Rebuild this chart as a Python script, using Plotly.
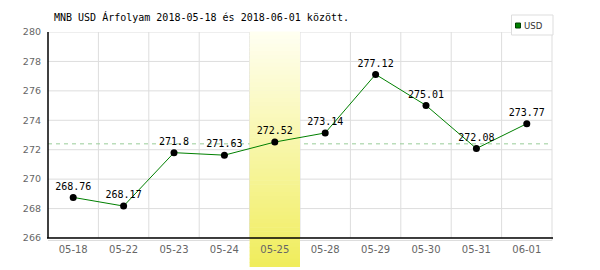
import plotly.graph_objects as go

dates = ["05-18", "05-22", "05-23", "05-24", "05-25", "05-28", "05-29", "05-30", "05-31", "06-01"]
usd = [268.76, 268.17, 271.8, 271.63, 272.52, 273.14, 277.12, 275.01, 272.08, 273.77]
labels = ["268.76", "268.17", "271.8", "271.63", "272.52", "273.14", "277.12", "275.01", "272.08", "273.77"]
y_ticks = [266, 268, 270, 272, 274, 276, 278, 280]
highlight_date = "05-25"
series_name = "USD"
title_text = "MNB USD Árfolyam 2018-05-18 és 2018-06-01 között."

avg = sum(usd) / len(usd)
idx = list(range(len(dates)))
hi = dates.index(highlight_date)

W, H = 600, 270
ML, MR, MT, MB = 48, 48, 32, 32
PW, PH = W - ML - MR, H - MT - MB


def px_x(x):
    return (x - ML) / PW


def px_y(y):
    return (H - MB - y) / PH


fig = go.Figure()
fig.add_trace(go.Scatter(
    x=idx, y=usd, mode="lines+markers+text", text=labels, textposition="top center",
    textfont=dict(family="DejaVu Sans Mono", size=10, color="#000"),
    line=dict(color="#008000", width=1),
    marker=dict(color="#000", size=7), showlegend=False, cliponaxis=False,
))

shapes = []
# vertical gridlines at category boundaries
for k in range(1, len(dates)):
    shapes.append(dict(type="line", xref="x", yref="paper", x0=k - 0.5, x1=k - 0.5, y0=0, y1=1,
                       line=dict(color="#dddddd", width=1), layer="below"))
# horizontal gridlines
for v in y_ticks:
    shapes.append(dict(type="line", xref="paper", yref="y", x0=0, x1=1, y0=v, y1=v,
                       line=dict(color="#dddddd", width=1), layer="below"))
# gray band line under x axis
shapes.append(dict(type="line", xref="paper", yref="paper", x0=0, x1=1, y0=px_y(240.5), y1=px_y(240.5),
                   line=dict(color="#dddddd", width=1), layer="below"))
# average dashed line
shapes.append(dict(type="line", xref="paper", yref="y", x0=0, x1=1, y0=avg, y1=avg,
                   line=dict(color="#99cc99", width=1, dash="4px,4px"), layer="below"))
# right border
shapes.append(dict(type="line", xref="paper", yref="paper", x0=1, x1=1, y0=px_y(240.5), y1=1,
                   line=dict(color="#dddddd", width=1), layer="below"))

# gradient highlight
n = 60
top, bot = 1.0, px_y(267)
c0 = (255, 255, 242)
c1 = (240, 237, 92)
for i in range(n):
    t = (i + 0.5) / n
    r, g, b = (round(c0[j] + (c1[j] - c0[j]) * t) for j in range(3))
    y1 = top - (top - bot) * i / n
    y0 = top - (top - bot) * (i + 1) / n
    shapes.append(dict(type="rect", xref="x", yref="paper", x0=hi - 0.5, x1=hi + 0.5,
                       y0=y0, y1=y1 + 0.003, line=dict(width=0),
                       fillcolor=f"rgb({r},{g},{b})", layer="below"))

# axis lines above highlight
shapes.append(dict(type="line", xref="paper", yref="paper", x0=-0.002, x1=1.002, y0=0, y1=0,
                   line=dict(color="#000", width=1.5), layer="between"))
shapes.append(dict(type="line", xref="paper", yref="paper", x0=0, x1=0, y0=0, y1=1,
                   line=dict(color="#000", width=1.5), layer="between"))
# legend box
shapes.append(dict(type="rect", xref="paper", yref="paper", x0=px_x(511.5), x1=px_x(553),
                   y0=px_y(35), y1=px_y(15), fillcolor="white", line=dict(color="#dddddd", width=1),
                   layer="above"))
shapes.append(dict(type="rect", xref="paper", yref="paper", x0=px_x(515.5), x1=px_x(520.5),
                   y0=px_y(28), y1=px_y(23), fillcolor="#008000", line=dict(color="#004000", width=1),
                   layer="above"))

fig.update_layout(
    width=W, height=H,
    margin=dict(l=ML, r=MR, t=MT, b=MB),
    paper_bgcolor="white", plot_bgcolor="white",
    shapes=shapes, showlegend=False,
    annotations=[
        dict(text=title_text, xref="paper", yref="paper", x=px_x(52), y=px_y(17),
             xanchor="left", yanchor="middle", showarrow=False,
             font=dict(family="DejaVu Sans Mono", size=10, color="#000")),
        dict(text=series_name, xref="paper", yref="paper", x=px_x(521.5), y=px_y(25.5),
             xanchor="left", yanchor="middle", showarrow=False,
             font=dict(family="DejaVu Sans Condensed", size=9.5, color="#333")),
    ],
    xaxis=dict(tickmode="array", tickvals=idx, ticktext=dates, range=[-0.5, len(dates) - 0.5],
               showgrid=False, zeroline=False, showline=False, ticks="",
               tickfont=dict(family="DejaVu Sans", size=10, color="#666"),
               ticklabelstandoff=4),
    yaxis=dict(tickmode="array", tickvals=y_ticks, range=[266, 280],
               showgrid=False, zeroline=False, showline=False, ticks="",
               tickfont=dict(family="DejaVu Sans", size=9.5, color="#666"),
               ticklabelstandoff=6),
)

fig.write_html("out.html")
